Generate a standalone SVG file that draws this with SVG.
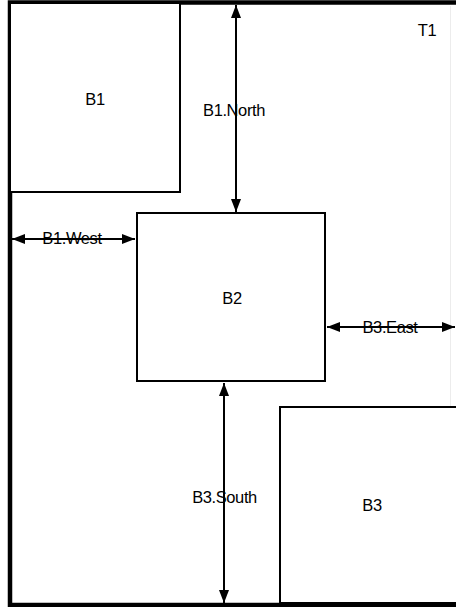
<svg xmlns="http://www.w3.org/2000/svg" width="456" height="607" viewBox="0 0 456 607">
  <style>
    .box { fill: #ffffff; stroke: #000000; stroke-width: 2; }
    .frame { fill: none; stroke: #000000; stroke-width: 4.5; }
    .dim { stroke: #000000; stroke-width: 2; fill: none; marker-start: url(#head); marker-end: url(#head); }
    text { font-family: "Liberation Sans", Arial, sans-serif; font-size: 16.5px; letter-spacing: -0.4px; fill: #000000; text-anchor: middle; }
  </style>
  <defs>
    <marker id="head" viewBox="0 0 13 10" refX="13" refY="5" markerWidth="13" markerHeight="10" markerUnits="userSpaceOnUse" orient="auto-start-reverse">
      <path d="M0,0 L13,5 L0,10 Z" fill="#000000"/>
    </marker>
  </defs>
  <rect width="456" height="607" fill="#ffffff"/>

  <g id="T1">
    <rect class="frame" x="10" y="2.5" width="470" height="602.5"/>
    <line x1="450.5" y1="6" x2="450.5" y2="602" stroke="#ececec" stroke-width="1"/>
    <text x="427" y="36">T1</text>
  </g>

  <g id="B1">
    <rect class="box" x="10" y="3" width="170" height="189"/>
    <text x="95" y="105">B1</text>
  </g>

  <g id="B2">
    <rect class="box" x="137" y="213" width="188" height="168"/>
    <text x="232" y="304">B2</text>
  </g>

  <g id="B3">
    <rect class="box" x="280" y="407" width="200" height="196"/>
    <text x="372" y="511">B3</text>
  </g>

  <g id="connectors">
    <line class="dim" x1="236" y1="5" x2="236" y2="212"/>
    <line class="dim" x1="12" y1="239" x2="135" y2="239"/>
    <line class="dim" x1="327" y1="327" x2="455" y2="327"/>
    <line class="dim" x1="224" y1="383" x2="224" y2="603"/>
    <text x="234" y="116">B1.North</text>
    <text x="72" y="244">B1.West</text>
    <text x="390" y="333">B3.East</text>
    <text x="224.5" y="503">B3.South</text>
  </g>
</svg>
